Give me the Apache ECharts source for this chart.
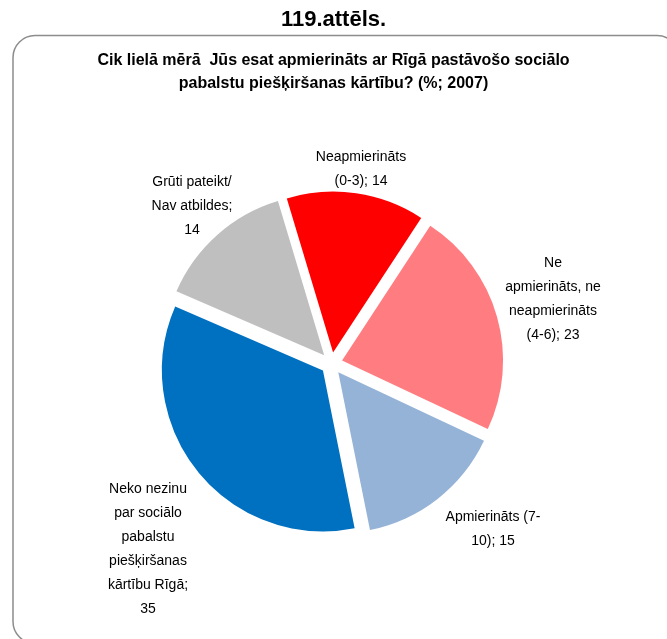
<!DOCTYPE html>
<html>
<head>
<meta charset="utf-8">
<script src="https://cdn.jsdelivr.net/npm/echarts@6/dist/echarts.min.js"></script>
<style>
  html, body { margin: 0; padding: 0; background: #fff; }
  #main { width: 667px; height: 639px; }
</style>
</head>
<body>
<div id="main"></div>
<script>
// dati (%; 2007)
const categories = [
    'Neapmierināts\n(0-3)',
    'Ne\napmierināts, ne\nneapmierināts\n(4-6)',
    'Apmierināts (7-\n10)',
    'Neko nezinu\npar sociālo\npabalstu\npiešķiršanas\nkārtību Rīgā',
    'Grūti pateikt/\nNav atbildes'
];
const values = [14, 23, 15, 35, 14];
const colors = ['#ff0000', '#ff7c80', '#95b3d7', '#0070c0', '#bfbfbf'];

// label centres
const labelPos = [[361, 169], [553, 299], [493, 529], [148, 549], [192, 206]];

const font = '"Liberation Sans Narrow", "Arial Narrow", "Liberation Sans", Arial, sans-serif';

let myChart = echarts.init(document.getElementById('main'));

let pieBase = {
    type: 'pie',
    center: [331.5, 363.5],
    radius: [0, 161],
    startAngle: 106.7,
    clockwise: true,
    avoidLabelOverlap: false,
    emphasis: { disabled: true }
};

let option = {
    animation: false,
    title: [
        {
            text: '119.attēls.',
            left: 'center',
            top: 4,
            textStyle: { fontFamily: font, fontSize: 22, fontWeight: 'bold', color: '#000' }
        },
        {
            text: 'Cik lielā mērā  Jūs esat apmierināts ar Rīgā pastāvošo sociālo\npabalstu piešķiršanas kārtību? (%; 2007)',
            left: 'center',
            top: 44,
            textStyle: { fontFamily: font, fontSize: 16, fontWeight: 'bold', color: '#000', lineHeight: 23, align: 'center' }
        }
    ],
    graphic: [
        {
            type: 'rect',
            shape: { x: 13, y: 35.5, width: 666, height: 608, r: 22 },
            style: { fill: 'none', stroke: '#8c8c8c', lineWidth: 1.5 },
            z: -1
        }
    ],
    series: [
        Object.assign({}, pieBase, {
            selectedMode: 'multiple',
            selectedOffset: 11,
            itemStyle: { borderWidth: 0 },
            label: { show: false },
            labelLine: { show: false },
            data: values.map(function (v, i) {
                return { name: categories[i], value: v, selected: true, itemStyle: { color: colors[i] } };
            })
        }),
        // labels only (transparent copy of the pie)
        Object.assign({}, pieBase, {
            silent: true,
            selectedMode: false,
            itemStyle: { color: 'rgba(0,0,0,0)' },
            label: {
                show: true,
                position: 'outside',
                fontFamily: font,
                fontSize: 14,
                lineHeight: 24,
                color: '#000',
                align: 'center',
                formatter: function (p) {
                    let lines = p.name.split('\n');
                    let sep = lines[lines.length - 1].length > 8 ? ';\n' : '; ';
                    return p.name + sep + p.value;
                }
            },
            labelLine: { show: false },
            labelLayout: function (p) {
                let pos = labelPos[p.dataIndex];
                return { x: pos[0], y: pos[1], align: 'center', verticalAlign: 'middle' };
            },
            data: values.map(function (v, i) {
                return { name: categories[i], value: v };
            })
        })
    ]
};

myChart.setOption(option);
</script>
</body>
</html>
